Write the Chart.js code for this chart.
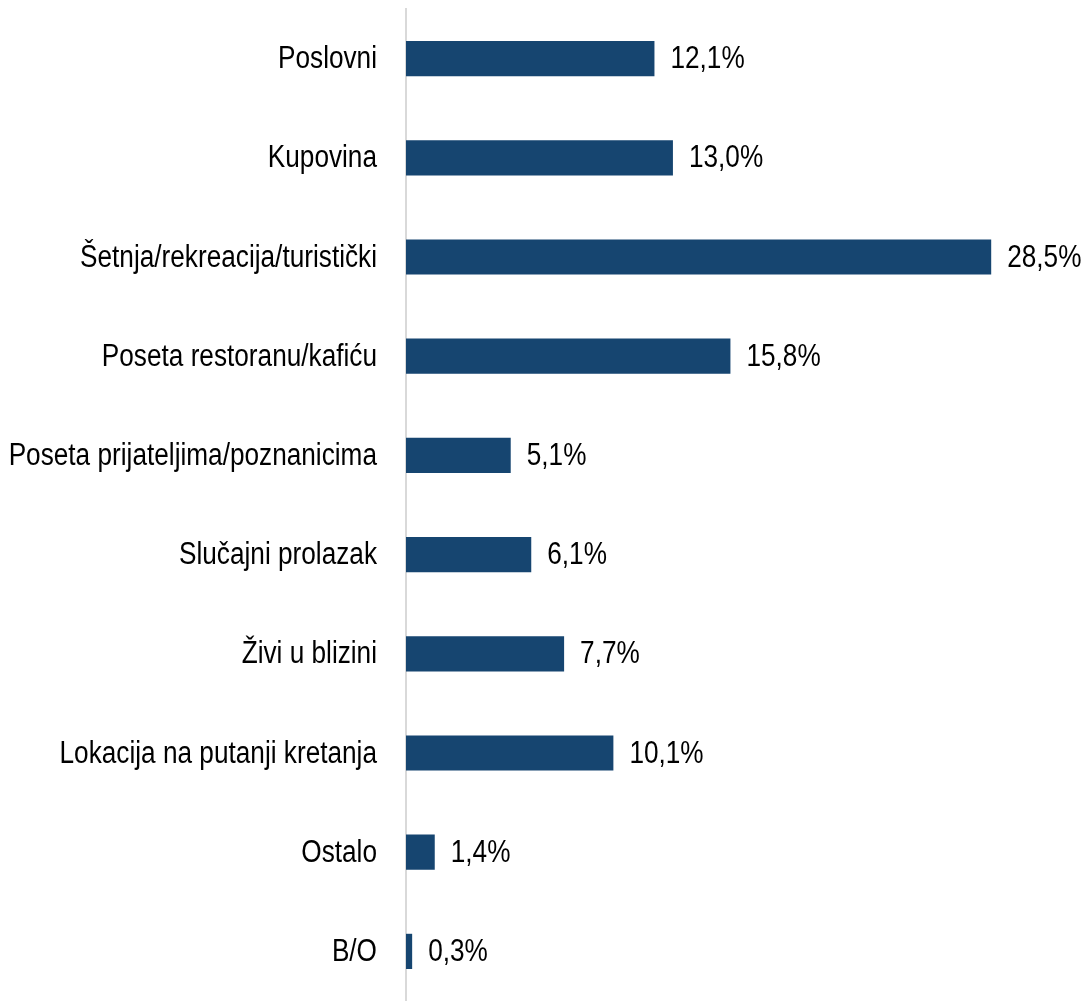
<!DOCTYPE html>
<html>
<head>
<meta charset="utf-8">
<script src="https://cdn.jsdelivr.net/npm/chart.js@4"></script>
<style>
  html, body { margin: 0; padding: 0; background: #fff; }
  #wrap { width: 1087px; height: 1001px; }
</style>
</head>
<body>
<div id="wrap"><canvas id="chart" width="1087" height="1001"></canvas></div>
<script>
// categories and shares (%)
const categories = [
  'Poslovni',
  'Kupovina',
  'Šetnja/rekreacija/turistički',
  'Poseta restoranu/kafiću',
  'Poseta prijateljima/poznanicima',
  'Slučajni prolazak',
  'Živi u blizini',
  'Lokacija na putanji kretanja',
  'Ostalo',
  'B/O'
];
const shares = [12.1, 13.0, 28.5, 15.8, 5.1, 6.1, 7.7, 10.1, 1.4, 0.3];

// no narrow font installed, so squeeze Liberation Sans to narrow proportions
const FONT = "31px 'Liberation Sans', Arial, sans-serif";
const NARROW = 0.845;

function narrowText(ctx, txt, x, y, align) {
  ctx.save();
  ctx.translate(x, y);
  ctx.scale(NARROW, 1);
  ctx.textAlign = align;
  ctx.fillText(txt, 0, 0);
  ctx.restore();
}

// category names left of the axis, values right of each bar
const textLabels = {
  id: 'textLabels',
  afterDatasetsDraw(chart) {
    const ctx = chart.ctx;
    const meta = chart.getDatasetMeta(0);
    const left = chart.chartArea.left;
    ctx.save();
    ctx.font = FONT;
    ctx.fillStyle = '#000';
    ctx.textBaseline = 'middle';
    meta.data.forEach((bar, i) => {
      narrowText(ctx, categories[i], left - 29, bar.y + 1, 'right');
      const txt = shares[i].toFixed(1).replace('.', ',') + '%';
      narrowText(ctx, txt, bar.x + 16, bar.y + 1, 'left');
    });
    ctx.restore();
  }
};

new Chart(document.getElementById('chart').getContext('2d'), {
  type: 'bar',
  data: {
    labels: categories,
    datasets: [{
      data: shares,
      backgroundColor: '#164570',
      barPercentage: 0.355,
      categoryPercentage: 1.0
    }]
  },
  options: {
    indexAxis: 'y',
    responsive: false,
    animation: false,
    layout: { padding: { top: 9, right: 65, bottom: -3, left: 0 } },
    plugins: {
      legend: { display: false },
      tooltip: { enabled: false }
    },
    scales: {
      x: {
        display: false,
        min: 0,
        max: 30
      },
      y: {
        afterFit(scale) { scale.width = 406; },
        grid: { display: false, drawTicks: false },
        border: { display: true, color: '#d9d9d9', width: 2 },
        ticks: { display: false }
      }
    }
  },
  plugins: [textLabels]
});
</script>
</body>
</html>
